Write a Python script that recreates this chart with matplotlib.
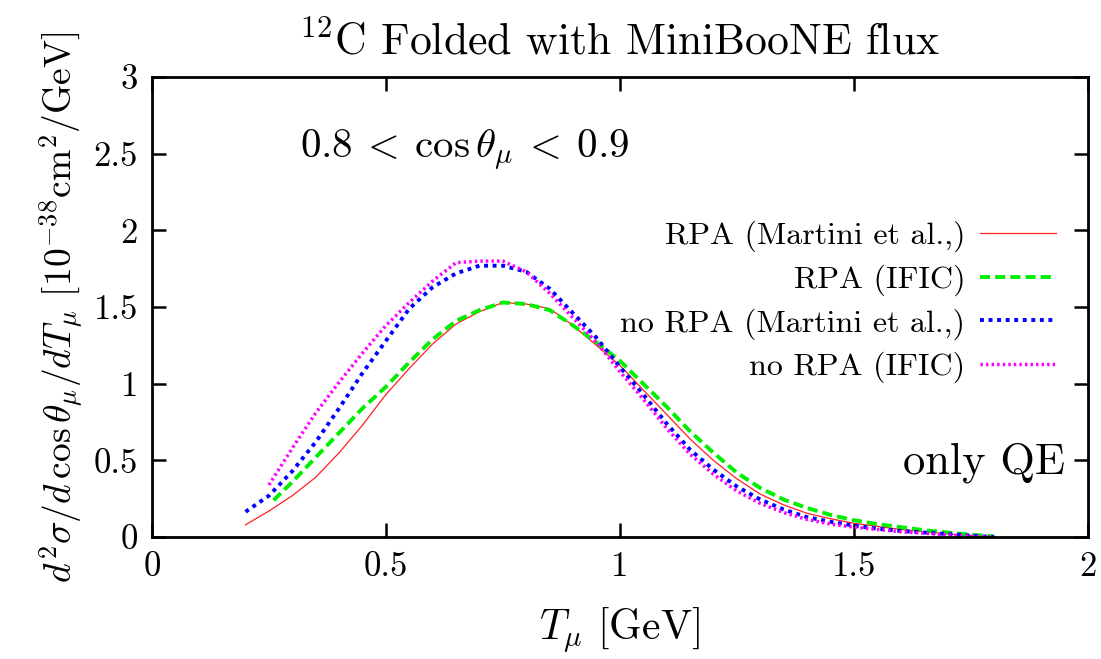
import matplotlib
matplotlib.use('Agg')
import matplotlib.pyplot as plt
from matplotlib.ticker import FormatStrFormatter

plt.rcParams['font.family'] = 'serif'
plt.rcParams['font.serif'] = ['cmr10']
plt.rcParams['mathtext.fontset'] = 'cm'
plt.rcParams['axes.formatter.use_mathtext'] = True

# RPA (Martini et al.,)
x_red = [0.2, 0.25, 0.3, 0.35, 0.4, 0.45, 0.5, 0.55, 0.6, 0.65, 0.7, 0.75, 0.8, 0.85, 0.9,
         0.95, 1.0, 1.05, 1.1, 1.15, 1.2, 1.25, 1.3, 1.35, 1.4, 1.45, 1.5, 1.55, 1.6, 1.65,
         1.7, 1.75, 1.8]
y_red = [0.08, 0.17, 0.27, 0.39, 0.55, 0.73, 0.93, 1.10, 1.26, 1.39, 1.47, 1.53, 1.52, 1.49, 1.38,
         1.25, 1.12, 0.96, 0.80, 0.64, 0.50, 0.38, 0.28, 0.21, 0.155, 0.12, 0.09, 0.07, 0.05, 0.035,
         0.02, 0.01, 0.0]

# RPA (IFIC)
x_green = [0.26, 0.3, 0.35, 0.4, 0.45, 0.5, 0.55, 0.6, 0.65, 0.7, 0.75, 0.8, 0.85, 0.9,
           0.95, 1.0, 1.05, 1.1, 1.15, 1.2, 1.25, 1.3, 1.35, 1.4, 1.45, 1.5, 1.55, 1.6, 1.65,
           1.7, 1.75, 1.8]
y_green = [0.24, 0.36, 0.52, 0.68, 0.84, 0.98, 1.14, 1.29, 1.41, 1.48, 1.53, 1.52, 1.48, 1.38,
           1.27, 1.15, 1.00, 0.85, 0.69, 0.55, 0.42, 0.32, 0.245, 0.19, 0.145, 0.11, 0.085, 0.065, 0.045,
           0.03, 0.015, 0.005]

# no RPA (Martini et al.,)
x_blue = [0.2, 0.25, 0.3, 0.35, 0.4, 0.45, 0.5, 0.55, 0.6, 0.65, 0.7, 0.75, 0.8, 0.85, 0.9,
          0.95, 1.0, 1.05, 1.1, 1.15, 1.2, 1.25, 1.3, 1.35, 1.4, 1.45, 1.5, 1.55, 1.6, 1.65,
          1.7, 1.75, 1.8]
y_blue = [0.165, 0.27, 0.43, 0.62, 0.84, 1.07, 1.28, 1.49, 1.63, 1.72, 1.77, 1.77, 1.73, 1.62, 1.46,
          1.30, 1.11, 0.93, 0.74, 0.57, 0.44, 0.33, 0.245, 0.18, 0.13, 0.10, 0.075, 0.055, 0.04, 0.03,
          0.02, 0.01, 0.0]

# no RPA (IFIC)
x_mag = [0.25, 0.3, 0.35, 0.4, 0.45, 0.5, 0.55, 0.6, 0.65, 0.7, 0.75, 0.8, 0.85, 0.9,
         0.95, 1.0, 1.05, 1.1, 1.15, 1.2, 1.25, 1.3, 1.35, 1.4, 1.45, 1.5, 1.55, 1.6, 1.65,
         1.7, 1.75, 1.8]
y_mag = [0.34, 0.58, 0.81, 1.01, 1.20, 1.38, 1.53, 1.67, 1.79, 1.80, 1.80, 1.73, 1.59, 1.43,
         1.27, 1.08, 0.90, 0.71, 0.54, 0.41, 0.30, 0.22, 0.16, 0.115, 0.085, 0.065, 0.05, 0.035, 0.025,
         0.015, 0.005, 0.0]

fig = plt.figure(figsize=(11.01, 6.59), dpi=100)
ax = fig.add_axes([0.138, 0.185, 0.850, 0.698])

ax.plot(x_red, y_red, color='#ff2020', lw=0.9, label='RPA (Martini et al.,)')
ax.plot(x_green, y_green, color='#00ee00', lw=2.8, ls=(0, (2.6, 1.3)), label='RPA (IFIC)')
ax.plot(x_blue, y_blue, color='#0000ff', lw=2.8, ls=(0, (1.0, 1.2)), label='no RPA (Martini et al.,)')
ax.plot(x_mag, y_mag, color='#ff00ff', lw=2.5, ls=(0, (0.7, 0.9)), label='no RPA (IFIC)')

ax.set_xlim(0, 2)
ax.set_ylim(0, 3)
ax.set_xticks([0, 0.5, 1, 1.5, 2])
ax.set_yticks([0, 0.5, 1, 1.5, 2, 2.5, 3])
ax.xaxis.set_major_formatter(FormatStrFormatter('%g'))
ax.yaxis.set_major_formatter(FormatStrFormatter('%g'))
ax.tick_params(direction='in', length=10, width=1.8, top=True, right=True,
               labelsize=25, pad=10)
for s in ax.spines.values():
    s.set_linewidth(2.0)

ax.set_title(r'$^{12}$C Folded with MiniBooNE flux', fontsize=31.5, pad=16)
ax.set_xlabel(r'$T_\mu$ [GeV]', fontsize=30, labelpad=16)
ax.set_ylabel(r'$d^2\sigma/d\,\cos\theta_\mu/dT_\mu$ [$10^{-38}$cm$^2$/GeV]', fontsize=27, labelpad=6)

ax.text(0.669, 2.52, r'$0.8\:<\:\cos\theta_\mu\:<\:0.9$', fontsize=29.5, ha='center', va='center')
ax.text(1.951, 0.483, 'only QE', fontsize=32, ha='right', va='center')

ax.legend(loc='upper right', bbox_to_anchor=(0.997, 0.75), frameon=False, markerfirst=False,
          fontsize=23, handlelength=2.4, handletextpad=0.45, labelspacing=0.38)

fig.savefig('out.png', dpi=100)
